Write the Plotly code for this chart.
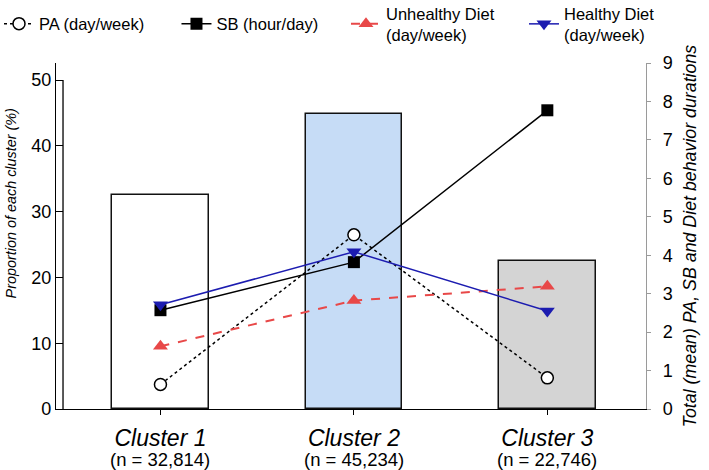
import plotly.graph_objects as go

clusters = ["Cluster 1", "Cluster 2", "Cluster 3"]
n_labels = ["(n = 32,814)", "(n = 45,234)", "(n = 22,746)"]
proportion = [32.56, 44.88, 22.57]
pa = [0.64, 4.53, 0.81]
sb = [2.57, 3.82, 7.77]
unhealthy = [1.63, 2.82, 3.19]
healthy = [2.71, 4.09, 2.55]
bar_colors = ["#ffffff", "#c6dcf6", "#d4d4d4"]

FONT = "Liberation Sans, Arial, sans-serif"

fig = go.Figure()
fig.add_trace(go.Bar(x=clusters, y=proportion, width=0.5,
                     marker=dict(color=bar_colors, line=dict(color="#111", width=1.5)),
                     showlegend=False, yaxis="y"))

fig.add_trace(go.Scatter(x=clusters, y=pa, yaxis="y2", name="PA (day/week)",
                         mode="lines+markers", legend="legend",
                         line=dict(color="black", width=1.5, dash="dot"),
                         marker=dict(symbol="circle", size=12, color="white",
                                     line=dict(color="black", width=1.5))))
fig.add_trace(go.Scatter(x=clusters, y=sb, yaxis="y2", name="SB (hour/day)",
                         mode="lines+markers", legend="legend2",
                         line=dict(color="black", width=1.5),
                         marker=dict(symbol="square", size=12, color="black")))
fig.add_trace(go.Scatter(x=clusters, y=unhealthy, yaxis="y2", name="Unhealthy Diet<br>(day/week)",
                         mode="lines+markers", legend="legend3",
                         line=dict(color="#e84848", width=2, dash="dash"),
                         marker=dict(symbol="triangle-up", size=13, color="#e84848")))
fig.add_trace(go.Scatter(x=clusters, y=healthy, yaxis="y2", name="Healthy Diet<br>(day/week)",
                         mode="lines+markers", legend="legend4",
                         line=dict(color="#1c1cb0", width=1.5),
                         marker=dict(symbol="triangle-down", size=13, color="#1c1cb0")))

annotations = []
for c, n in zip(clusters, n_labels):
    annotations.append(dict(x=c, y=-0.146, xref="x", yref="paper", text=n,
                            showarrow=False, yanchor="middle",
                            font=dict(size=18.5, color="black", family=FONT)))
# left axis title (placed slightly above centre, as in the original)
annotations.append(dict(x=-0.0763, y=0.594, xref="paper", yref="paper",
                        text="<i>Proportion of each cluster (%)</i>", textangle=-90,
                        showarrow=False, xanchor="center", yanchor="middle",
                        font=dict(size=14.4, color="black", family=FONT)))

def leg(x):
    return dict(orientation="h", x=x, xanchor="left", y=1.113, yanchor="middle",
                font=dict(size=16.5, family=FONT), itemwidth=30,
                bgcolor="rgba(0,0,0,0)", valign="middle")

fig.update_layout(
    width=709, height=470,
    margin=dict(l=56, r=63, t=63, b=61, autoexpand=False),
    paper_bgcolor="white", plot_bgcolor="white",
    font=dict(family=FONT, color="black"),
    bargap=0,
    xaxis=dict(range=[-0.54, 2.51], showline=True, linecolor="black", linewidth=1.3,
               ticks="outside", ticklen=5, tickcolor="black",
               tickvals=clusters, ticktext=["<i>" + c + "</i>" for c in clusters],
               tickfont=dict(size=23, family=FONT), showgrid=False, zeroline=False,
               ticklabelstandoff=3, automargin=False),
    yaxis=dict(range=[0, 52.6], tickvals=[0, 10, 20, 30, 40, 50],
               showline=True, linecolor="black", linewidth=1.3,
               ticks="inside", ticklen=7, tickcolor="black",
               tickfont=dict(size=18, family=FONT), showgrid=False, zeroline=False,
               automargin=False),
    yaxis2=dict(range=[0, 9], dtick=1, overlaying="y", side="right",
                showline=True, linecolor="#9a9a9a", linewidth=1.3,
                ticks="outside", ticklen=4, tickcolor="#9a9a9a",
                tickfont=dict(size=18, family=FONT), showgrid=False, zeroline=False,
                ticklabelstandoff=8, automargin=False,
                title=dict(text="<i>Total (mean) PA, SB and Diet behavior durations</i>",
                           font=dict(size=17.8, family=FONT), standoff=11)),
    legend=leg(-0.0966),
    legend2=leg(0.2042),
    legend3=leg(0.4915),
    legend4=leg(0.7932),
    annotations=annotations,
    shapes=[dict(type="line", xref="paper", yref="y", x0=0.0119, x1=0.0119, y0=0, y1=50,
                 line=dict(color="black", width=1.3))],
)

fig.write_html("out.html", config={"displayModeBar": False},
               post_script="document.body.style.margin='0';")
